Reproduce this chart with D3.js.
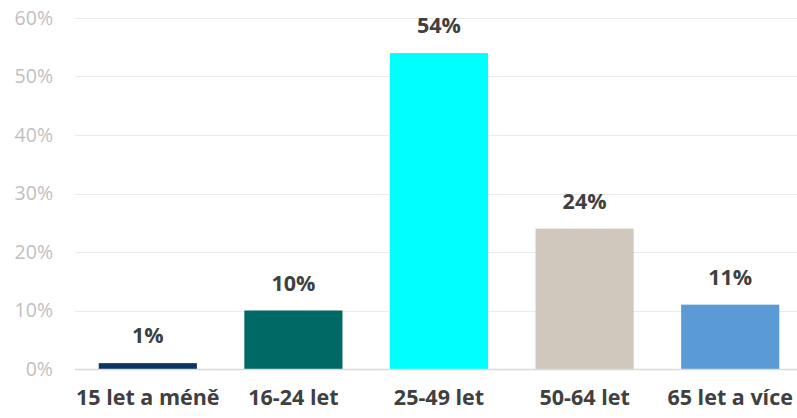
<!DOCTYPE html>
<meta charset="utf-8">
<style>
  body { margin: 0; background: #fff; }
  .grid line { stroke: #ebebeb; stroke-width: 1; }
  .tick-label { font-family: "Open Sans", sans-serif; font-size: 19.5px; fill: #bfbfbf; }
  .value { font-family: "Open Sans", sans-serif; font-weight: bold; font-size: 21.5px; fill: #404040; }
  .cat { font-family: "Open Sans", sans-serif; font-weight: bold; font-size: 21.5px; fill: #404040; }
</style>
<body></body>
<script src="https://d3js.org/d3.v7.min.js"></script>
<script>
var categories = ['15 let a méně', '16-24 let', '25-49 let', '50-64 let', '65 let a více'];
var values = [1, 10, 54, 24, 11];
var barColors = ['#0b3467', '#006965', '#00ffff', '#d0c8bc', '#5b9bd5'];
var yTicks = [0, 10, 20, 30, 40, 50, 60];

var width = 797, height = 418;
var svg = d3.select('body').append('svg')
    .attr('width', width)
    .attr('height', height);

var x = d3.scaleBand().domain(categories).range([75, 803]).paddingInner(0.326).paddingOuter(0.163);
var y = d3.scaleLinear().domain([0, 60]).range([369, 18]);

// gridlines
svg.append('g').attr('class', 'grid')
    .selectAll('line')
    .data(yTicks.filter(d => d > 0))
    .enter().append('line')
    .attr('x1', 75).attr('x2', width)
    .attr('y1', d => Math.round(y(d)) + 0.5)
    .attr('y2', d => Math.round(y(d)) + 0.5);

svg.selectAll('.tick-label')
    .data(yTicks)
    .enter().append('text')
    .attr('class', 'tick-label')
    .attr('x', 53)
    .attr('y', d => y(d))
    .attr('dy', '0.35em')
    .attr('text-anchor', 'end')
    .text(d => d + '%');

svg.selectAll('.bar')
    .data(values)
    .enter().append('rect')
    .attr('class', 'bar')
    .attr('x', (d, i) => x(categories[i]))
    .attr('width', x.bandwidth())
    .attr('y', d => y(d))
    .attr('height', d => y(0) - y(d))
    .attr('fill', (d, i) => barColors[i]);

// axis baseline
svg.append('line')
    .attr('x1', 75).attr('x2', width)
    .attr('y1', 369.5).attr('y2', 369.5)
    .attr('stroke', '#d9d9d9').attr('stroke-width', 1.5);

svg.selectAll('.value')
    .data(values)
    .enter().append('text')
    .attr('class', 'value')
    .attr('x', (d, i) => x(categories[i]) + x.bandwidth() / 2)
    .attr('y', d => y(d) - 20)
    .attr('text-anchor', 'middle')
    .text(d => d + '%');

svg.selectAll('.cat')
    .data(categories)
    .enter().append('text')
    .attr('class', 'cat')
    .attr('x', d => x(d) + x.bandwidth() / 2)
    .attr('y', 405)
    .attr('text-anchor', 'middle')
    .text(d => d);
</script>
